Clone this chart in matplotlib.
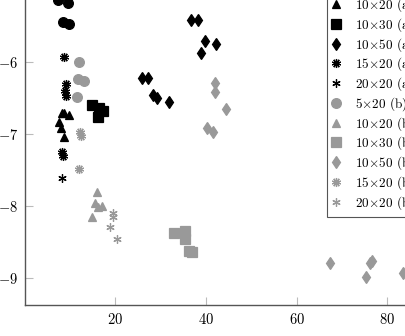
import matplotlib
matplotlib.use("Agg")
import matplotlib.pyplot as plt

plt.rcParams['font.family'] = 'serif'
plt.rcParams['font.serif'] = ['cmr10']
plt.rcParams['mathtext.fontset'] = 'cm'
plt.rcParams['axes.formatter.use_mathtext'] = True

# series (a) - black
a_5x20_x = [7.4, 9.6, 8.5, 9.9, 8.0, 9.2]
a_5x20_y = [-5.13, -5.17, -5.44, -5.47, -5.0, -4.95]
a_10x20_x = [8.3, 9.9, 7.7, 8.1, 8.75, 8.8]
a_10x20_y = [-6.71, -6.73, -6.83, -6.92, -7.04, -6.71]
a_10x30_x = [15.0, 16.5, 17.3, 16.3]
a_10x30_y = [-6.60, -6.63, -6.67, -6.76]
a_10x50_x = [36.7, 38.2, 39.8, 42.3, 39.0, 25.9, 27.3, 28.4, 29.3, 31.9]
a_10x50_y = [-5.41, -5.41, -5.70, -5.74, -5.87, -6.22, -6.22, -6.46, -6.49, -6.55]
a_15x20_x = [8.8, 9.1, 9.0, 9.2, 8.2, 8.5]
a_15x20_y = [-5.93, -6.30, -6.40, -6.47, -7.25, -7.30]
a_20x20_x = [8.3]
a_20x20_y = [-7.61]

# series (b) - grey
b_5x20_x = [12.1, 11.8, 13.2, 11.6]
b_5x20_y = [-6.00, -6.23, -6.26, -6.48]
b_10x20_x = [16.0, 15.6, 16.3, 17.1, 14.9]
b_10x20_y = [-7.81, -7.96, -8.01, -8.00, -8.15]
b_10x30_x = [32.9, 35.4, 35.4, 36.2, 36.9]
b_10x30_y = [-8.37, -8.35, -8.46, -8.63, -8.64]
b_10x50_x = [42.1, 42.1, 44.5, 40.2, 41.5, 67.4, 76.6, 76.2, 75.3, 83.4]
b_10x50_y = [-6.29, -6.41, -6.65, -6.91, -6.97, -8.79, -8.77, -8.80, -8.99, -8.94]
b_15x20_x = [12.3, 12.4, 12.1]
b_15x20_y = [-6.97, -7.03, -7.49]
b_20x20_x = [19.6, 19.5, 18.9, 20.5]
b_20x20_y = [-8.10, -8.15, -8.29, -8.46]

labels = ['5$\\times$20 (a)', '10$\\times$20 (a)', '10$\\times$30 (a)', '10$\\times$50 (a)',
          '15$\\times$20 (a)', '20$\\times$20 (a)', '5$\\times$20 (b)', '10$\\times$20 (b)',
          '10$\\times$30 (b)', '10$\\times$50 (b)', '15$\\times$20 (b)', '20$\\times$20 (b)']

grey = '#999999'
series = [
    (a_5x20_x, a_5x20_y, 'o', 'black', 7),
    (a_10x20_x, a_10x20_y, '^', 'black', 5.5),
    (a_10x30_x, a_10x30_y, 's', 'black', 6.5),
    (a_10x50_x, a_10x50_y, 'd', 'black', 6),
    (a_15x20_x, a_15x20_y, (10, 2, 0), 'black', 6.5),
    (a_20x20_x, a_20x20_y, (6, 2, 0), 'black', 6),
    (b_5x20_x, b_5x20_y, 'o', grey, 7),
    (b_10x20_x, b_10x20_y, '^', grey, 5.5),
    (b_10x30_x, b_10x30_y, 's', grey, 6.5),
    (b_10x50_x, b_10x50_y, 'd', grey, 6),
    (b_15x20_x, b_15x20_y, (10, 2, 0), grey, 6.5),
    (b_20x20_x, b_20x20_y, (6, 2, 0), grey, 6),
]

fig = plt.figure(figsize=(4.05, 3.36), dpi=100)
ax = fig.add_axes([25 / 405, 31 / 336, 1 - 25 / 405, 1 - 31 / 336])

handles = []
for (xs, ys, m, c, ms), lab in zip(series, labels):
    h, = ax.plot(xs, ys, linestyle='none', marker=m, color=c, markersize=ms,
                 markeredgewidth=0.9, label=lab)
    handles.append(h)

ax.set_xlim(0.15, 83.9)
ax.set_ylim(-9.38, -5.13)
ax.set_xticks([20, 40, 60, 80])
ax.set_yticks([-9, -8, -7, -6])

for s in ['top', 'right']:
    ax.spines[s].set_visible(False)
for s in ['left', 'bottom']:
    ax.spines[s].set_color('#555555')
    ax.spines[s].set_linewidth(1.0)

ax.tick_params(direction='in', length=6, width=0.8, color='#bbbbbb',
               labelsize=10.5, labelcolor='black', pad=5)

leg = fig.legend(handles=handles, loc='lower left',
                 bbox_to_anchor=(327 / 405, (336 - 217) / 336),
                 fontsize=9.5, frameon=True, fancybox=False, framealpha=1,
                 edgecolor='#555555', handlelength=0.5, handletextpad=1.2,
                 labelspacing=0.15, borderpad=0.4, borderaxespad=0)
leg.get_frame().set_linewidth(0.8)

fig.savefig('out.png', dpi=100)
